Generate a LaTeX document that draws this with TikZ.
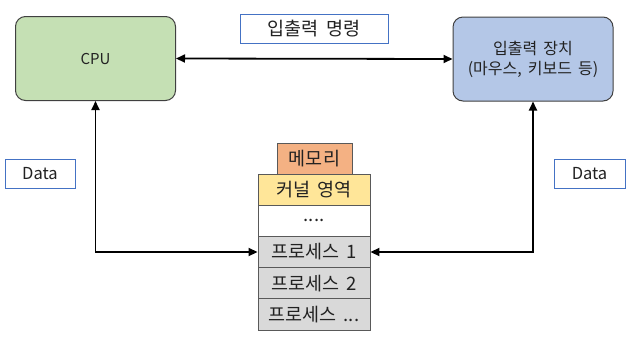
\documentclass[tikz,border=0pt]{standalone}
\usepackage{fontspec}
\setmainfont{Noto Sans CJK KR}
\usetikzlibrary{arrows.meta}
\definecolor{cpug}{HTML}{C5E0B4}
\definecolor{iob}{HTML}{B4C7E7}
\definecolor{memo}{HTML}{F4B183}
\definecolor{kery}{HTML}{FFE699}
\definecolor{procg}{HTML}{D9D9D9}
\definecolor{lblb}{HTML}{4472C4}
\definecolor{bord}{HTML}{404040}
\definecolor{cell}{HTML}{595959}
\definecolor{txt}{HTML}{222222}
\newcommand{\wsp}{\spaceskip=.38em\relax}
\tikzset{
  unit box/.style={draw=bord, line width=1pt, rounded corners=10pt, minimum width=160pt, minimum height=84pt, align=center, inner sep=0pt, text=txt},
  label box/.style={draw=lblb, line width=0.8pt, fill=white, minimum height=29pt, inner sep=0pt, text=txt, font=\fontsize{16.5}{18}\selectfont},
  cellbox/.style={draw=cell, line width=0.9pt, minimum width=112pt, minimum height=31.2pt, inner sep=0pt, text=txt, font=\fontsize{18.5}{20}\selectfont\wsp},
  link/.style={line width=1.8pt, {Triangle[length=9pt,width=8pt]}-{Triangle[length=9pt,width=8pt]}},
}
\begin{document}
\begin{tikzpicture}[x=1pt,y=-1pt]
\useasboundingbox (0,0) rectangle (636,341);
\node[unit box, fill=cpug, font=\fontsize{15}{18}\selectfont] (cpu) at (95.5,58.5) {CPU};
\node[unit box, fill=iob, font=\fontsize{16}{20}\selectfont\wsp] (io) at (533,59) {입출력 장치\\(마우스, 키보드 등)};
\node[label box, minimum width=148pt, font=\fontsize{18.5}{20}\selectfont\wsp] (cmd) at (314,28.5) {입출력 명령};
\node[label box, minimum width=70pt] (dl) at (40,173.5) {Data};
\node[label box, minimum width=71pt] (dr) at (589.5,173.5) {Data};
\node[cellbox, fill=memo, minimum width=75pt, minimum height=31pt] (mem) at (314.5,158.5) {메모리};
\node[cellbox, fill=kery] (ker) at (314,189.6) {커널 영역};
\node[cellbox, fill=white] (dots) at (314,220.8) {....};
\node[cellbox, fill=procg] (p1) at (314,252) {프로세스 1};
\node[cellbox, fill=procg] (p2) at (314,283.2) {프로세스 2};
\node[cellbox, fill=procg] (p3) at (314,314.4) {프로세스 ...};
\draw[link] (cpu.east) -- (io.west);
\draw[link] (cpu.south) |- (p1.west);
\draw[link] (io.south) |- (p1.east);
\end{tikzpicture}
\end{document}
